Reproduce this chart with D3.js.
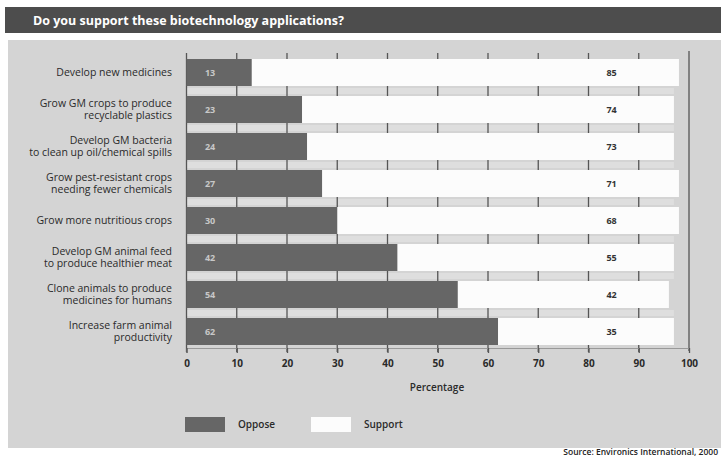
<!DOCTYPE html>
<html>
<head>
<meta charset="utf-8">
<script src="https://cdn.jsdelivr.net/npm/d3@7"></script>
<style>
  html, body { margin: 0; padding: 0; background: #fff; }
  svg { display: block; font-family: "Open Sans", "Noto Sans", sans-serif; }
</style>
</head>
<body>
<svg id="chart" width="721" height="460"></svg>
<script>
// Survey data: share of respondents opposing / supporting each application
const categories = [
  ["Develop new medicines"],
  ["Grow GM crops to produce", "recyclable plastics"],
  ["Develop GM bacteria", "to clean up oil/chemical spills"],
  ["Grow pest-resistant crops", "needing fewer chemicals"],
  ["Grow more nutritious crops"],
  ["Develop GM animal feed", "to produce healthier meat"],
  ["Clone animals to produce", "medicines for humans"],
  ["Increase farm animal", "productivity"]
];
const oppose  = [13, 23, 24, 27, 30, 42, 54, 62];
const support = [85, 74, 73, 71, 68, 55, 42, 35];
const xTicks  = [0, 10, 20, 30, 40, 50, 60, 70, 80, 90, 100];
const seriesNames = ["Oppose", "Support"];

const svg = d3.select("#chart");
const colDark = "#666666", colLight = "#fcfcfc";

// Header band and grey panel
svg.append("rect").attr("x", 5).attr("y", 7).attr("width", 716).attr("height", 26).attr("fill", "#4d4d4d");
svg.append("text").attr("x", 33).attr("y", 25)
  .attr("fill", "#fff").attr("font-size", 12.5).attr("font-weight", 700)
  .text("Do you support these biotechnology applications?");
svg.append("rect").attr("x", 8).attr("y", 40).attr("width", 713).attr("height", 408).attr("fill", "#d4d4d4");

const x = d3.scaleLinear().domain([0, 100]).range([186.5, 689]);
const idx = d3.range(categories.length);
const y = d3.scaleBand().domain(idx).range([59, 345]).paddingInner(0.27);

// Light strips in the gaps between rows
const gapG = svg.append("g");
idx.slice(0, -1).forEach(i => {
  const g0 = y(i) + y.bandwidth(), g1 = y(i + 1);
  gapG.append("rect").attr("x", x(0)).attr("y", g0 + 2).attr("width", x(97) - x(0))
    .attr("height", g1 - g0 - 4).attr("fill", "#dedede");
});

// Gridlines at every ten
svg.append("g").selectAll("line").data(xTicks.slice(0, -1)).join("line")
  .attr("x1", d => x(d)).attr("x2", d => x(d)).attr("y1", 53).attr("y2", 352)
  .attr("stroke", "#555").attr("stroke-width", 1.3);
svg.append("line").attr("x1", x(100)).attr("x2", x(100)).attr("y1", 51).attr("y2", 351)
  .attr("stroke", "#666").attr("stroke-width", 1.5);

// Stacked bars
const rows = svg.append("g").selectAll("g").data(idx).join("g");
rows.append("rect").attr("x", x(0)).attr("y", i => y(i))
  .attr("width", i => x(oppose[i]) - x(0)).attr("height", y.bandwidth()).attr("fill", colDark);
rows.append("rect").attr("x", i => x(oppose[i])).attr("y", i => y(i))
  .attr("width", i => x(oppose[i] + support[i]) - x(oppose[i])).attr("height", y.bandwidth()).attr("fill", colLight);

// Value labels
rows.append("text").attr("x", x(4.7)).attr("y", i => y(i) + y.bandwidth() / 2 + 3.5)
  .attr("text-anchor", "middle").attr("font-size", 9).attr("font-weight", 700).attr("fill", "#c8c8c8")
  .text(i => oppose[i]);
rows.append("text").attr("x", x(84.6)).attr("y", i => y(i) + y.bandwidth() / 2 + 3.5)
  .attr("text-anchor", "middle").attr("font-size", 9).attr("font-weight", 700).attr("fill", "#333")
  .text(i => support[i]);

// Category labels
rows.append("text").attr("text-anchor", "end").attr("font-size", 10.5).attr("fill", "#2a2a2a")
  .each(function(i) {
    const lines = categories[i];
    const cy = y(i) + y.bandwidth() / 2;
    d3.select(this).selectAll("tspan").data(lines).join("tspan")
      .attr("x", 172)
      .attr("y", (d, k) => cy + 3.5 + (k - (lines.length - 1) / 2) * 12.5)
      .text(d => d);
  });

// Bottom axis
const axis = svg.append("g").attr("transform", "translate(0,348)")
  .call(d3.axisBottom(x).tickValues(xTicks).tickSize(5).tickPadding(7));
axis.select(".domain").attr("stroke", "#999").attr("stroke-width", 1);
axis.selectAll(".tick line").attr("stroke", "#555").attr("stroke-width", 1.3);
axis.selectAll(".tick text").attr("font-size", 10).attr("font-weight", 700).attr("fill", "#2a2a2a")
  .attr("font-family", "'Open Sans', sans-serif");

svg.append("text").attr("x", 437).attr("y", 391).attr("text-anchor", "middle")
  .attr("font-size", 10).attr("font-weight", 600).attr("fill", "#2a2a2a").text("Percentage");

// Legend
const legendX = [185, 311];
seriesNames.forEach((name, k) => {
  svg.append("rect").attr("x", legendX[k]).attr("y", 417).attr("width", 40).attr("height", 15)
    .attr("fill", k === 0 ? colDark : colLight);
  svg.append("text").attr("x", legendX[k] + 53).attr("y", 428)
    .attr("font-size", 10).attr("font-weight", 600).attr("fill", "#2a2a2a").text(name);
});

// Source note
svg.append("text").attr("x", 718).attr("y", 455).attr("text-anchor", "end")
  .attr("font-size", 8.5).attr("font-weight", 600).attr("fill", "#222")
  .text("Source: Environics International, 2000");
</script>
</body>
</html>
